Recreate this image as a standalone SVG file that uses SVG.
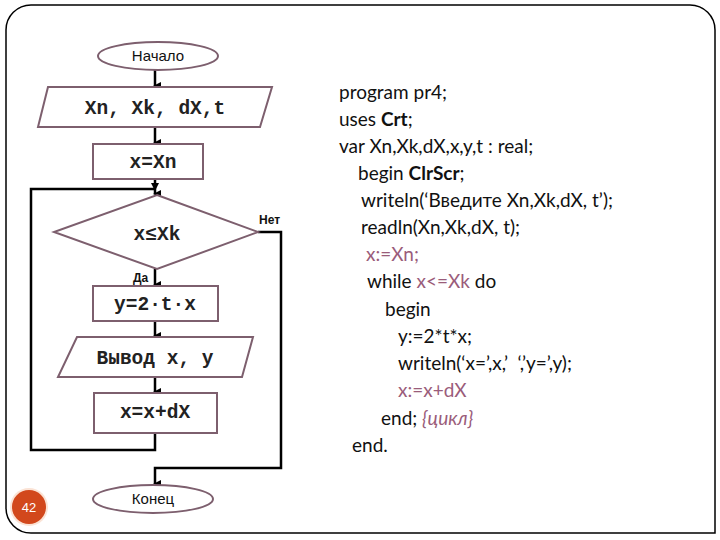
<svg xmlns="http://www.w3.org/2000/svg" width="720" height="540" viewBox="0 0 720 540">
<defs>
<marker id="ah" markerWidth="8" markerHeight="8" refX="4" refY="6" orient="auto-start-reverse" markerUnits="userSpaceOnUse" viewBox="0 0 8 8">
<path d="M0,0 L8,0 L4,8 Z" fill="#000"/>
</marker>
<style>
.shape{fill:#fff;stroke:#7d5f6e;stroke-width:2}
.conn{fill:none;stroke:#000;stroke-width:2.5}
.mono{font-family:"Liberation Mono","DejaVu Sans Mono",monospace;font-weight:bold;font-size:19.5px;fill:#222;text-anchor:middle}
.term{font-family:"Liberation Sans Narrow","Liberation Sans",Arial,sans-serif;font-size:15px;fill:#111;text-anchor:middle}
.lbl{font-family:"Liberation Sans",Arial,sans-serif;font-weight:bold;font-size:12px;fill:#111}
.code{font-family:"Lato","Open Sans",sans-serif;font-size:19px;fill:#111}
.pink{fill:#9a5c7a}
</style>
</defs>
<rect x="0" y="0" width="720" height="540" fill="#fff"/>
<path d="M31,5 H690 A25,25 0 0 1 715,30 V533 H31 A25,25 0 0 1 6,508 V30 A25,25 0 0 1 31,5 Z" fill="none" stroke="#000" stroke-width="1.5"/>

<g id="connectors">
<line class="conn" x1="155" y1="70" x2="155" y2="86" marker-end="url(#ah)"/>
<line class="conn" x1="155" y1="127" x2="155" y2="143" marker-end="url(#ah)"/>
<line class="conn" x1="155" y1="179" x2="155" y2="194" marker-end="url(#ah)"/>
<polyline class="conn" points="155,433 155,450 31,450 31,189 155,189" marker-end="url(#ah)"/>
<line class="conn" x1="155" y1="269" x2="155" y2="285" marker-end="url(#ah)"/>
<polyline class="conn" points="258,232 281,232 281,468 155,468 155,484" marker-end="url(#ah)"/>
<line class="conn" x1="155" y1="321" x2="155" y2="336" marker-end="url(#ah)"/>
<line class="conn" x1="155" y1="377" x2="155" y2="392" marker-end="url(#ah)"/>
</g>

<g id="start">
<ellipse class="shape" cx="158" cy="56" rx="60" ry="14"/>
<text class="term" x="158" y="61">Начало</text>
</g>
<g id="input">
<polygon class="shape" points="48,87 272,87 260,127 38,127"/>
<text class="mono" x="155" y="114">Xn, Xk, dX,t</text>
</g>
<g id="init">
<rect class="shape" x="93" y="144" width="110" height="35"/>
<text class="mono" x="153" y="168">x=Xn</text>
</g>
<g id="cond">
<polygon class="shape" points="157,195 258,232 157,269 54,232"/>
<text class="mono" x="157" y="240">x≤Xk</text>
<text class="lbl" x="259" y="224">Нет</text>
<text class="lbl" x="133" y="282">Да</text>
</g>
<g id="calc">
<rect class="shape" x="93" y="286" width="125" height="35"/>
<text class="mono" x="155" y="310">y=2·t·x</text>
</g>
<g id="output">
<polygon class="shape" points="77,337 253,337 242,377 58,377"/>
<text class="mono" x="155" y="364">Вывод x, y</text>
</g>
<g id="step">
<rect class="shape" x="94" y="393" width="123" height="40"/>
<text class="mono" x="155" y="418">x=x+dX</text>
</g>
<g id="end">
<ellipse class="shape" cx="153" cy="499" rx="60" ry="14"/>
<text class="term" x="153" y="504">Конец</text>
</g>

<g id="page">
<circle cx="29" cy="507" r="19" fill="#fbe3d5"/>
<circle cx="29" cy="507" r="17" fill="#d2481c"/>
<text x="29" y="512" font-family="Liberation Sans,Arial,sans-serif" font-size="13" fill="#fff" text-anchor="middle">42</text>
</g>

<g id="code" class="code">
<text x="339" y="99">program pr4;</text>
<text x="339" y="126">uses <tspan font-weight="bold">Crt</tspan>;</text>
<text x="339" y="153">var Xn,Xk,dX,x,y,t : real;</text>
<text x="358" y="180">begin <tspan font-weight="bold">ClrScr</tspan>;</text>
<text x="361" y="207">writeln(‘Введите Xn,Xk,dX, t’);</text>
<text x="361" y="234">readln(Xn,Xk,dX, t);</text>
<text x="366" y="261" class="pink">x:=Xn;</text>
<text x="367" y="288">while <tspan class="pink">x&lt;=Xk</tspan> do</text>
<text x="385" y="316">begin</text>
<text x="398" y="343">y:=2*t*x;</text>
<text x="398" y="370">writeln(‘x=’,x,’&#160;&#160;‘,’y=’,y);</text>
<text x="398" y="397" class="pink">x:=x+dX</text>
<text x="381" y="425">end; <tspan class="pink" font-style="italic">{цикл}</tspan></text>
<text x="352" y="452">end.</text>
</g>
</svg>
